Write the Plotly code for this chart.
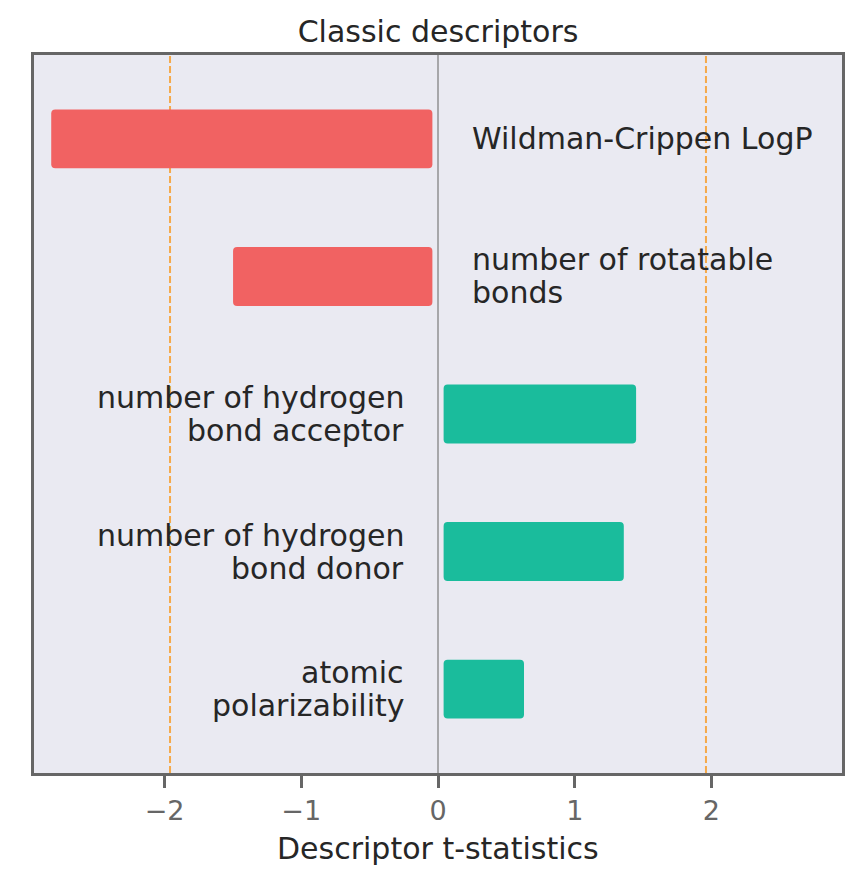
import plotly.graph_objects as go

# ---- data ----
descriptors = [
    "Wildman-Crippen LogP",
    "number of rotatable\nbonds",
    "number of hydrogen\nbond acceptor",
    "number of hydrogen\nbond donor",
    "atomic\npolarizability",
]
t_stats = [-2.87, -1.54, 1.49, 1.40, 0.67]
critical_t = 1.96
x_tick_vals = [-2, -1, 0, 1, 2]
title_text = "Classic descriptors"
x_label = "Descriptor t-statistics"

# ---- style ----
BG = "#EAEAF2"
NEG = "#F16262"
POS = "#1ABC9C"
FRAME = "#666666"
TEXT = "#262626"
FONT = "DejaVu Sans"
PAD = 0.041          # visual padding of the rounded bars (data units)

colors = [NEG if v < 0 else POS for v in t_stats]
signs = [1 if v >= 0 else -1 for v in t_stats]
positions = list(range(len(descriptors)))

fig = go.Figure(
    go.Bar(
        y=positions,
        x=[v - 2 * s * PAD for v, s in zip(t_stats, signs)],
        base=[s * PAD for s in signs],
        orientation="h",
        width=0.428,
        marker=dict(color=colors, line=dict(width=0), cornerradius=4),
        hoverinfo="skip",
    )
)

annotations = []
for i, (lab, v) in enumerate(zip(descriptors, t_stats)):
    lines = lab.split("\n")
    n = len(lines)
    for j, line in enumerate(lines):
        annotations.append(
            dict(
                x=0.25 if v < 0 else -0.25,
                y=i,
                xref="x",
                yref="y",
                text=line,
                showarrow=False,
                xanchor="left" if v < 0 else "right",
                yanchor="middle",
                xshift=-2 if v < 0 else 2,
                yshift=((n - 1) / 2 - j) * 33,
                font=dict(family=FONT, size=30, color=TEXT),
            )
        )

annotations.append(
    dict(
        x=0.5, y=0, xref="paper", yref="paper", text=x_label, showarrow=False,
        xanchor="center", yanchor="middle", yshift=-75,
        font=dict(family=FONT, size=30, color=TEXT),
    )
)

shapes = []
for c in (-critical_t, critical_t):
    shapes.append(
        dict(type="line", xref="x", yref="paper", x0=c, x1=c, y0=0, y1=1,
             line=dict(color="#F5A94A", width=2, dash="7px,3px"), layer="below")
    )
shapes.append(
    dict(type="line", xref="x", yref="paper", x0=0, x1=0, y0=0, y1=1,
         line=dict(color="#7A7A7A", width=1.2), layer="below")
)

fig.update_layout(
    width=859,
    height=881,
    margin=dict(l=34, r=17, t=55, b=108),
    paper_bgcolor="white",
    plot_bgcolor=BG,
    showlegend=False,
    title=dict(
        text=title_text, x=0.5, xanchor="center", xref="paper",
        y=1 - 31 / 881, yref="container", yanchor="middle",
        font=dict(family=FONT, size=30, color=TEXT),
    ),
    annotations=annotations,
    shapes=shapes,
    xaxis=dict(
        range=[-2.955, 2.955],
        tickvals=x_tick_vals,
        showgrid=False,
        zeroline=False,
        showline=True,
        mirror=True,
        linecolor=FRAME,
        linewidth=3,
        ticks="outside",
        ticklen=12,
        tickwidth=3,
        tickcolor=FRAME,
        tickfont=dict(family=FONT, size=27, color=FRAME),
    ),
    yaxis=dict(
        range=[len(descriptors) - 1 + 0.61, -0.61],
        showticklabels=False,
        showgrid=False,
        zeroline=False,
        showline=True,
        mirror=True,
        linecolor=FRAME,
        linewidth=3,
        ticks="",
    ),
)

fig.write_html("out.html")
